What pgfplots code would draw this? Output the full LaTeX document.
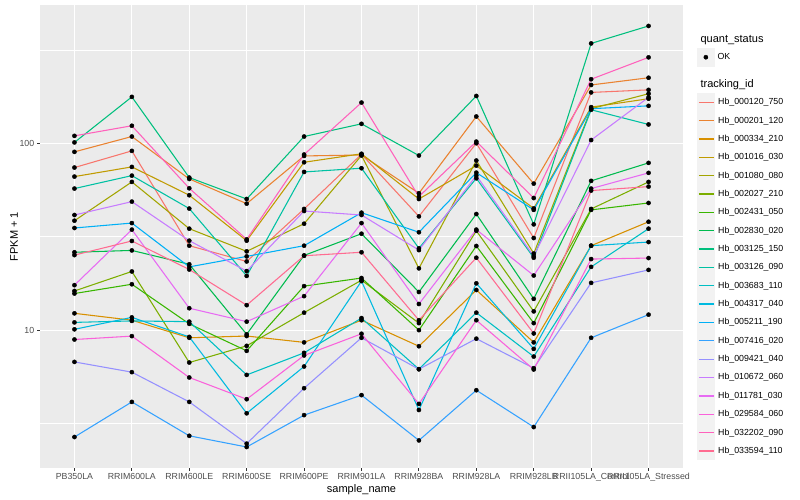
\documentclass[border=0pt]{standalone}
\usepackage{pgfplots}
\pgfplotsset{compat=1.18}
\usepackage{pgfplotstable}
\usepackage{fontspec}
\setmainfont{Liberation Sans}

% ggplot2 hue palette, 20 levels
\definecolor{c1}{HTML}{F8766D}
\definecolor{c2}{HTML}{EA8331}
\definecolor{c3}{HTML}{D89000}
\definecolor{c4}{HTML}{C09B00}
\definecolor{c5}{HTML}{A3A500}
\definecolor{c6}{HTML}{7CAE00}
\definecolor{c7}{HTML}{39B600}
\definecolor{c8}{HTML}{00BB4E}
\definecolor{c9}{HTML}{00BF7D}
\definecolor{c10}{HTML}{00C1A3}
\definecolor{c11}{HTML}{00BFC4}
\definecolor{c12}{HTML}{00BAE0}
\definecolor{c13}{HTML}{00B0F6}
\definecolor{c14}{HTML}{35A2FF}
\definecolor{c15}{HTML}{9590FF}
\definecolor{c16}{HTML}{C77CFF}
\definecolor{c17}{HTML}{E76BF3}
\definecolor{c18}{HTML}{FA62DB}
\definecolor{c19}{HTML}{FF62BC}
\definecolor{c20}{HTML}{FF6C91}
\definecolor{panelbg}{HTML}{EBEBEB}
\definecolor{keybg}{HTML}{F2F2F2}
\definecolor{tickgrey}{HTML}{333333}
\definecolor{labelgrey}{HTML}{4D4D4D}

% FPKM + 1, one column per tracking_id, one row per sample
\pgfplotstableread{
x  s1    s2    s3   s4    s5    s6    s7    s8    s9    s10   s11   s12   s13   s14   s15   s16   s17   s18   s19   s20
0  74.1  89.9  12.3 66.3  38.5  16.2  15.7  26.1  101   57.2  11.0  10.1  35.2  2.68  6.76  41.3  17.4  8.91  109.5 25.2
1  91.0  108.6 11.3 74.7  62.1  20.6  17.6  26.7  177   67.1  11.2  11.7  37.4  4.13  5.96  48.7  34.5  9.29  124   30.0
2  28.3  64.4  9.1  52.7  34.9  6.71  10.8  22.5  65.5  44.7  11.1  9.2   21.8  2.72  4.13  30.1  13.1  5.58  57.4  21.1
3  23.3  47.5  9.3  30.1  26.4  8.24  7.75  9.5   50.3  19.5  5.76  3.59  24.8  2.37  2.47  20.7  11.1  4.27  30.6  13.6
4  44.5  85.5  8.6  79.1  37.1  12.4  17.2  25.1  108.6 70.2  7.56  6.39  28.3  3.51  4.89  43.4  15.2  7.32  87.0  25.0
5  87.3  86.5  11.3 87.8  86.0  18.5  19.0  32.8  127   73.5  11.6  18.3  42.5  4.49  9.1   41.3  37.4  9.56  165   26.1
6  40.6  54.0  8.2  50.3  21.4  10.9  10.0  16.0  85.9  27.4  6.18  3.74  33.4  2.57  6.18  26.8  13.8  4.03  51.8  11.3
7  100   139   16.4 75.9  80.8  34.0  28.2  41.8  179   64.9  12.4  17.8  69.6  4.77  9.0   67.1  34.5  11.3  102   24.4
8  31.1  60.8  8.6  44.8  25.7  12.6  10.9  14.7  36.8  24.4  7.22  7.94  44.0  3.03  6.26  24.9  19.6  6.16  50.9  9.6
9  187   205   28.3 156   153   44.5  44.0  62.9  342   151   21.8  28.3  153   9.1   17.9  104   57.2  24.0  220   55.8
10 193   224   38.0 173   184   62.1  47.9  78.5  424   126   34.9  29.6  158.5 12.1  21.0  176   69.4  24.3  288   58.6
}\fpkm

\begin{document}
\begin{tikzpicture}[x=1pt,y=1pt]
\path[use as bounding box] (0,0) rectangle (800,500);
\begin{axis}[
    at={(40pt,32pt)}, anchor=south west,
    scale only axis, width=643pt, height=463pt,
    ymode=log, ymin=1.83, ymax=549,
    xmin=-0.6, xmax=10.6,
    xtick={0,...,10},
    xticklabels={PB350LA,RRIM600LA,RRIM600LE,RRIM600SE,RRIM600PE,RRIM901LA,RRIM928BA,RRIM928LA,RRIM928LB,RRII105LA\_Control,RRII105LA\_Stressed},
    ytick={10,100}, yticklabels={10,100},
    minor ytick={3.1623,31.623,316.23},
    grid=both,
    major grid style={white, line width=1.07pt},
    minor grid style={white, line width=0.53pt},
    axis background/.style={fill=panelbg},
    axis line style={draw=none},
    tick pos=left, tick align=outside,
    major tick length=2.75pt, minor tick length=0pt,
    tick style={color=tickgrey, line width=1.07pt},
    ticklabel style={font=\fontsize{8.8}{10}\selectfont, text=labelgrey},
    xticklabel style={anchor=north, inner sep=0pt, yshift=-2.3pt},
    yticklabel style={anchor=east, inner sep=0pt, xshift=-2.8pt},
    /pgf/number format/assume math mode=true,
    xlabel={sample\_name}, ylabel={FPKM + 1},
    label style={font=\fontsize{11}{13}\selectfont},
    xlabel style={at={(axis description cs:0.5,-0.047)}, anchor=center},
    ylabel style={at={(axis description cs:-0.0404,0.5)}, anchor=center},
    legend cell align=left,
    legend style={at={(axis description cs:1.0218,0.8097)}, anchor=north west,
      draw=none, fill=none, inner sep=0pt, outer sep=0pt, row sep=0pt,
      font=\fontsize{8.8}{10}\selectfont, nodes={inner sep=0pt},
      /tikz/every odd column/.append style={column sep=2.8pt}},
    legend image code/.code={
      \fill[keybg] (0pt,-8.64pt) rectangle (17.28pt,8.64pt);
      \draw[#1, line width=1.3pt] (1.2pt,0pt) -- (16.1pt,0pt);},
  ]
\pgfplotsinvokeforeach{1,...,20}{
  \addplot[c#1, line width=1.07pt, mark=none] table[x=x, y=s#1] {\fpkm};
}
\pgfplotsinvokeforeach{1,...,20}{
  \addplot[only marks, mark=*, mark size=2.1pt, black, forget plot] table[x=x, y=s#1] {\fpkm};
}
\legend{Hb\_000120\_750,Hb\_000201\_120,Hb\_000334\_210,Hb\_001016\_030,Hb\_001080\_080,
  Hb\_002027\_210,Hb\_002431\_050,Hb\_002830\_020,Hb\_003125\_150,Hb\_003126\_090,
  Hb\_003683\_110,Hb\_004317\_040,Hb\_005211\_190,Hb\_007416\_020,Hb\_009421\_040,
  Hb\_010672\_060,Hb\_011781\_030,Hb\_029584\_060,Hb\_032202\_090,Hb\_033594\_110}
\end{axis}
% second, hidden axis only for the quant_status key
\begin{axis}[
    at={(40pt,32pt)}, anchor=south west,
    scale only axis, width=643pt, height=463pt,
    hide axis, xmin=0, xmax=1, ymin=0, ymax=1,
    legend cell align=left,
    legend style={at={(axis description cs:1.0218,0.9063)}, anchor=north west,
      draw=none, fill=none, inner sep=0pt, outer sep=0pt, row sep=0pt,
      font=\fontsize{8.8}{10}\selectfont, nodes={inner sep=0pt},
      /tikz/every odd column/.append style={column sep=2.8pt}},
    legend image code/.code={
      \fill[keybg] (0pt,-8.64pt) rectangle (17.28pt,8.64pt);
      \draw[#1] plot coordinates {(8.64pt,0pt)};},
  ]
\addplot[draw=none, forget plot] coordinates {(0.5,0.5)};
\addlegendimage{only marks, mark=*, mark size=2.1pt, black}
\addlegendentry{OK}
\end{axis}
\node[anchor=west, font=\fontsize{11}{13}\selectfont] at (697,460) {quant\_status};
\node[anchor=west, font=\fontsize{11}{13}\selectfont] at (697,415.7) {tracking\_id};
\end{tikzpicture}
\end{document}
